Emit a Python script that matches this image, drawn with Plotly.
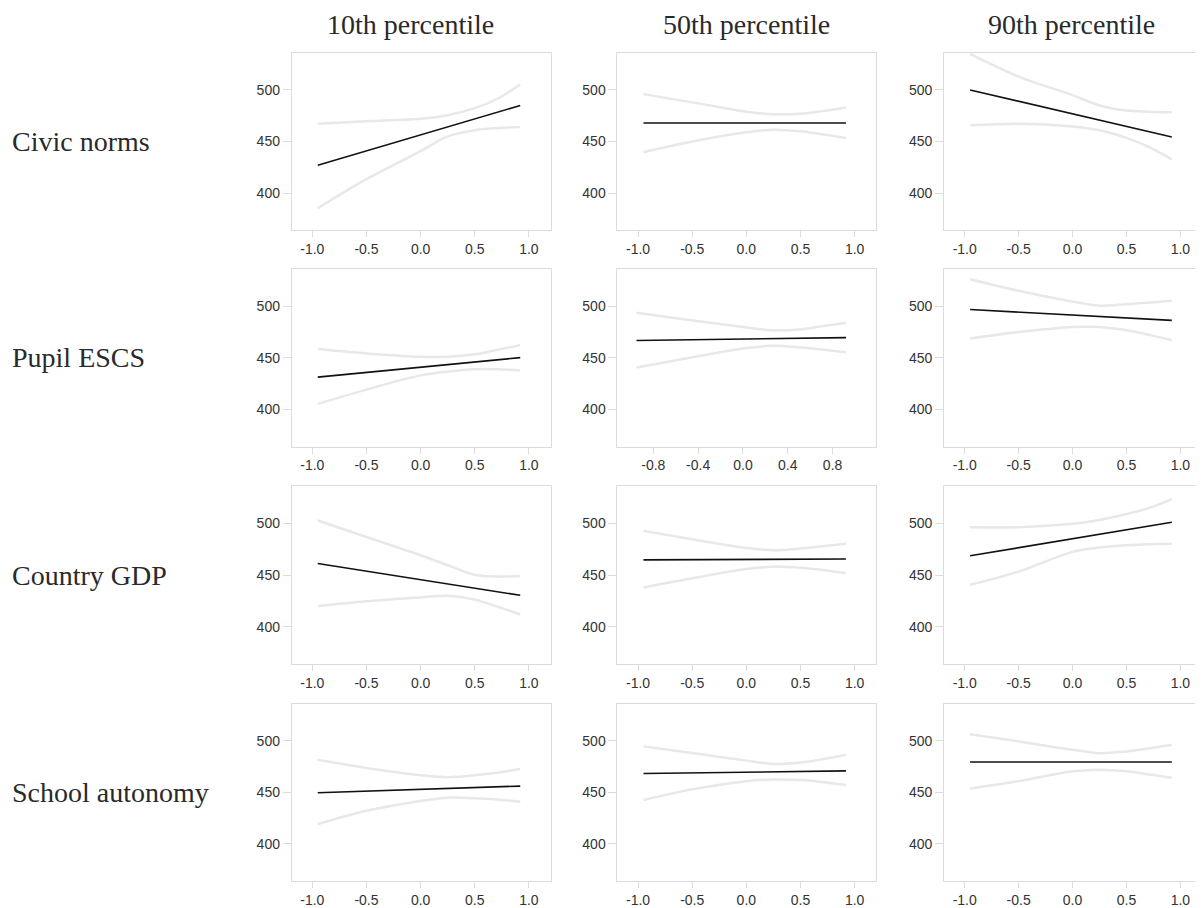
import plotly.graph_objects as go

col_titles = ["10th percentile", "50th percentile", "90th percentile"]
row_labels = ["Civic norms", "Pupil ESCS", "Country GDP", "School autonomy"]

# x grid for confidence bands and end points of fitted lines
band_x = [-0.95, -0.5, 0.0, 0.25, 0.5, 0.7, 0.92]
line_x = [-0.95, 0.92]

# fitted lines (start, end) per row, per column
civic_fit = [[427.0, 485.0], [468.0, 468.0], [500.0, 454.5]]
escs_fit = [[431.3, 450.2], [466.8, 469.6], [496.8, 486.3]]
gdp_fit = [[461.3, 430.4], [464.8, 465.6], [468.7, 501.3]]
auto_fit = [[449.7, 456.1], [468.3, 470.8], [479.5, 479.5]]

# upper confidence bands
civic_up = [[467.3, 469.6, 472.0, 475.5, 482.4, 491.0, 505.4],
            [496.0, 488.0, 479.0, 476.5, 477.0, 479.5, 483.0],
            [535.0, 513.0, 495.0, 485.0, 480.0, 479.0, 478.5]]
escs_up = [[458.5, 454.3, 451.0, 451.0, 453.4, 457.5, 462.3],
           [493.6, 487.0, 480.0, 476.8, 477.5, 480.5, 484.0],
           [526.2, 515.0, 504.5, 500.6, 502.0, 503.5, 505.4]]
gdp_up = [[502.9, 486.9, 469.3, 459.5, 450.3, 448.6, 449.2],
          [493.0, 484.7, 476.4, 474.1, 475.7, 478.0, 480.5],
          [496.5, 496.5, 499.7, 503.5, 509.3, 514.7, 523.6]]
auto_up = [[481.7, 473.7, 466.7, 464.7, 466.7, 469.0, 472.8],
           [494.6, 488.1, 480.8, 477.6, 479.0, 482.0, 486.5],
           [506.4, 499.4, 491.3, 488.0, 489.7, 492.5, 496.2]]

# lower confidence bands
civic_lo = [[385.3, 413.5, 440.7, 455.0, 461.0, 463.0, 464.0],
            [439.7, 450.0, 459.0, 461.5, 460.0, 457.0, 453.5],
            [465.7, 467.3, 464.7, 461.0, 453.5, 445.0, 432.7]]
escs_lo = [[405.4, 419.2, 433.0, 436.7, 439.0, 439.0, 437.7],
           [440.6, 449.5, 459.0, 461.7, 460.3, 458.0, 455.3],
           [468.7, 475.0, 479.9, 479.9, 476.7, 472.5, 467.0]]
gdp_lo = [[419.8, 424.6, 428.4, 430.0, 426.2, 419.8, 411.8],
          [438.0, 447.0, 455.9, 458.1, 457.2, 455.0, 451.8],
          [440.6, 453.4, 472.5, 476.8, 478.9, 480.0, 480.5]]
auto_lo = [[419.2, 432.1, 441.7, 444.9, 444.2, 443.0, 441.0],
           [442.6, 452.9, 460.9, 462.5, 462.0, 460.0, 457.1],
           [453.8, 460.9, 470.5, 472.0, 470.5, 467.5, 464.1]]

fits = [civic_fit, escs_fit, gdp_fit, auto_fit]
ups = [civic_up, escs_up, gdp_up, auto_up]
los = [civic_lo, escs_lo, gdp_lo, auto_lo]

y_ticks = [400, 450, 500]
x_ticks = [-1.0, -0.5, 0.0, 0.5, 1.0]
x_ticks_alt = [-0.8, -0.4, 0.0, 0.4, 0.8]

# page body has an 8px margin, so the figure is laid out in page pixels minus 8
OFF = 8
W, H = 1203 - OFF, 908 - OFF
col_px = [(292, 551), (618, 877), (945, 1204)]
row_px = [(53, 231), (270, 448), (488, 666), (706, 884)]

fig = go.Figure()
band_color = "#e8e8e8"
frame_color = "#dcdcdc"
tick_font = dict(family="Liberation Sans, Arial", size=14, color="#333333")


def lbl(v):
    return f"{v:.1f}"


for r in range(4):
    for c in range(3):
        idx = r * 3 + c + 1
        xa = "x" if idx == 1 else f"x{idx}"
        ya = "y" if idx == 1 else f"y{idx}"
        for band in (ups[r][c], los[r][c]):
            fig.add_trace(go.Scatter(x=band_x, y=band, mode="lines",
                                     line=dict(color=band_color, width=2.5, shape="spline", smoothing=1.0),
                                     xaxis=xa, yaxis=ya, showlegend=False, hoverinfo="skip"))
        fig.add_trace(go.Scatter(x=line_x, y=fits[r][c], mode="lines",
                                 line=dict(color="#111111", width=1.6),
                                 xaxis=xa, yaxis=ya, showlegend=False))
        x0, x1 = col_px[c][0] - OFF, col_px[c][1] - OFF
        y0, y1 = row_px[r][0] - OFF, row_px[r][1] - OFF
        alt = (r == 1 and c == 1)
        tv = x_ticks_alt if alt else x_ticks
        xkey = "xaxis" if idx == 1 else f"xaxis{idx}"
        ykey = "yaxis" if idx == 1 else f"yaxis{idx}"
        fig.layout[xkey] = dict(
            domain=[x0 / W, min(x1 / W, 1.0)], anchor=ya,
            range=[-1.12, 1.19] if alt else [-1.19, 1.2],
            tickvals=tv, ticktext=[lbl(v) for v in tv],
            ticks="outside", ticklen=6, tickcolor=frame_color,
            showgrid=False, zeroline=False, showline=True, linecolor=frame_color,
            linewidth=1, mirror=True, tickfont=tick_font)
        fig.layout[ykey] = dict(
            domain=[1 - y1 / H, 1 - y0 / H], anchor=xa,
            range=[364, 536], tickvals=y_ticks,
            ticks="outside", ticklen=8, tickcolor=frame_color,
            showgrid=False, zeroline=False, showline=True, linecolor=frame_color,
            linewidth=1, mirror=True, tickfont=tick_font)

annotations = []
serif = dict(family="Liberation Serif, Times New Roman, serif", size=28, color="#2a2a2a")
title_cx = [411, 747, 1072]
for c, t in enumerate(col_titles):
    annotations.append(dict(text=t, x=(title_cx[c] - OFF) / W, y=1 - (25 - OFF) / H,
                            xref="paper", yref="paper",
                            xanchor="center", yanchor="middle", showarrow=False, font=serif))
for r, t in enumerate(row_labels):
    cy = 1 - ((row_px[r][0] + row_px[r][1]) / 2 - OFF) / H
    annotations.append(dict(text=t, x=(10 - OFF) / W, y=cy, xref="paper", yref="paper",
                            xanchor="left", yanchor="middle", showarrow=False, font=serif))

fig.update_layout(width=W, height=H, margin=dict(l=0, r=0, t=0, b=0),
                  paper_bgcolor="white", plot_bgcolor="white",
                  annotations=annotations, showlegend=False)

fig.write_html("out.html")
